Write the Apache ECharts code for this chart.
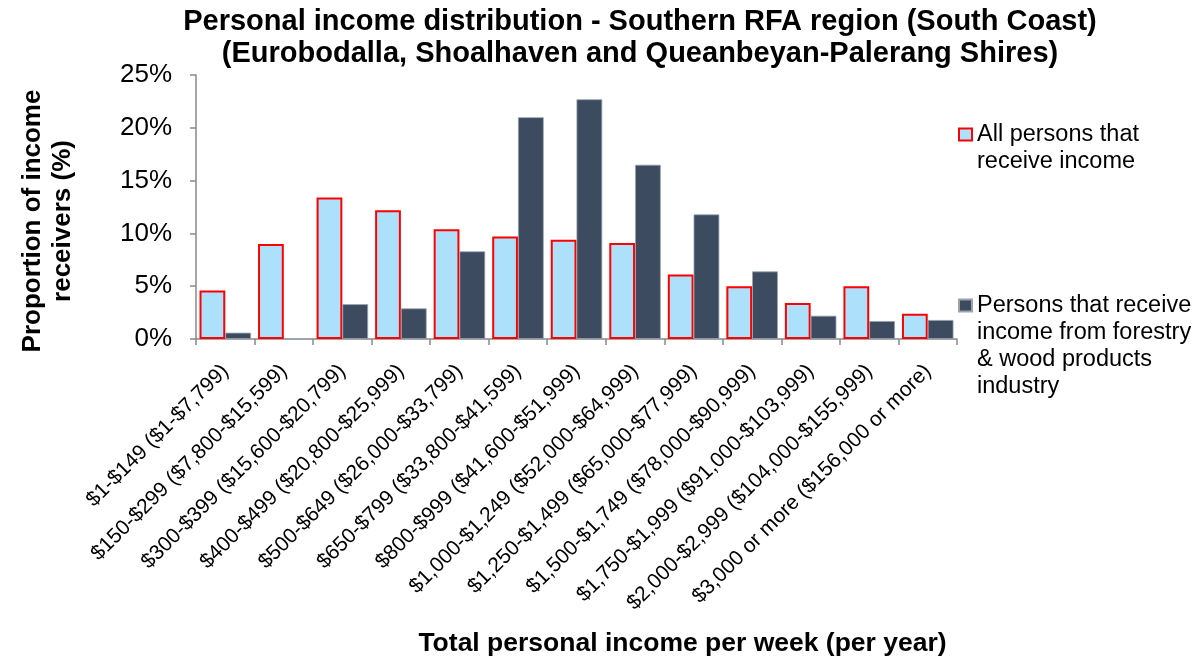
<!DOCTYPE html>
<html>
<head>
<meta charset="utf-8">
<title>Personal income distribution - Southern RFA region (South Coast)</title>
<script src="https://cdn.jsdelivr.net/npm/echarts@6/dist/echarts.min.js"></script>
<style>
  html, body { margin: 0; padding: 0; background: #ffffff; }
  #chart { width: 1204px; height: 663px; }
</style>
</head>
<body>
<div id="chart"></div>
<script>
// Weekly (annual) personal income brackets
const incomeBands = [
  '$1-$149 ($1-$7,799)',
  '$150-$299 ($7,800-$15,599)',
  '$300-$399 ($15,600-$20,799)',
  '$400-$499 ($20,800-$25,999)',
  '$500-$649 ($26,000-$33,799)',
  '$650-$799 ($33,800-$41,599)',
  '$800-$999 ($41,600-$51,999)',
  '$1,000-$1,249 ($52,000-$64,999)',
  '$1,250-$1,499 ($65,000-$77,999)',
  '$1,500-$1,749 ($78,000-$90,999)',
  '$1,750-$1,999 ($91,000-$103,999)',
  '$2,000-$2,999 ($104,000-$155,999)',
  '$3,000 or more ($156,000 or more)'
];

// Share of income receivers in each bracket (%)
const allPersons = [4.6, 9.0, 13.4, 12.2, 10.4, 9.7, 9.4, 9.1, 6.1, 5.0, 3.4, 5.0, 2.4];
const forestryPersons = [0.6, 0, 3.3, 2.9, 8.3, 21.0, 22.7, 16.5, 11.8, 6.4, 2.2, 1.7, 1.8];

// Y axis ticks (%)
const yTicks = { min: 0, max: 25, interval: 5 };

const seriesNames = [
  'All persons that receive income',
  'Persons that receive income from forestry & wood products industry'
];

// Legend text is wrapped over several lines; leading blank lines keep the
// swatch level with the first line (legend text is centred on its swatch).
const legendLines = {};
legendLines[seriesNames[0]] = ['All persons that', 'receive income'];
legendLines[seriesNames[1]] = ['Persons that receive', 'income from forestry', '& wood products', 'industry'];

function legendText(name) {
  const lines = legendLines[name];
  const pad = new Array(lines.length - 1).fill('');
  return pad.concat(lines).join('\n');
}

const FONT = '"Liberation Sans", Arial, Helvetica, sans-serif';
const AXIS_GREY = '#898989';

const legendBase = {
  orient: 'vertical',
  left: 958,
  padding: 0,
  itemWidth: 13,
  itemHeight: 12,
  icon: 'rect',
  selectedMode: false,
  formatter: legendText,
  textStyle: {
    fontFamily: FONT,
    fontSize: 23.5,
    lineHeight: 27,
    color: '#000000'
  }
};

const chart = echarts.init(document.getElementById('chart'), null, { renderer: 'canvas' });

chart.setOption({
  backgroundColor: '#ffffff',
  animation: false,
  textStyle: { fontFamily: FONT, color: '#000000' },
  title: {
    text: 'Personal income distribution - Southern RFA region (South Coast)\n(Eurobodalla, Shoalhaven and Queanbeyan-Palerang Shires)',
    left: 640,
    top: 6,
    textAlign: 'center',
    padding: 0,
    textStyle: {
      fontFamily: FONT,
      fontSize: 29,
      fontWeight: 'bold',
      lineHeight: 32,
      color: '#000000'
    }
  },
  legend: [
    Object.assign({}, legendBase, { data: [seriesNames[0]], top: 94 }),
    Object.assign({}, legendBase, { data: [seriesNames[1]], top: 211 })
  ],
  grid: {
    left: 196,
    right: 247,
    top: 75,
    bottom: 324,
    containLabel: false,
    outerBoundsMode: 'none'
  },
  xAxis: {
    type: 'category',
    data: incomeBands,
    boundaryGap: true,
    name: 'Total personal income per week (per year)',
    nameLocation: 'middle',
    nameGap: 291,
    nameTextStyle: {
      fontFamily: FONT,
      fontSize: 26.5,
      fontWeight: 'bold',
      color: '#000000',
      padding: [0, 0, 0, 212]
    },
    axisLine: { show: true, lineStyle: { color: AXIS_GREY, width: 1.5 } },
    axisTick: { show: true, alignWithLabel: false, length: 6, lineStyle: { color: AXIS_GREY, width: 1.5 } },
    axisLabel: {
      interval: 0,
      rotate: 45,
      margin: 29,
      fontFamily: FONT,
      fontSize: 21,
      color: '#000000'
    },
    splitLine: { show: false }
  },
  yAxis: {
    type: 'value',
    min: yTicks.min,
    max: yTicks.max,
    interval: yTicks.interval,
    name: 'Proportion of income\nreceivers (%)',
    nameLocation: 'middle',
    nameRotate: 90,
    nameGap: 118,
    nameTextStyle: {
      fontFamily: FONT,
      fontSize: 26,
      fontWeight: 'bold',
      lineHeight: 30,
      color: '#000000',
      padding: [0, 28, 0, 0]
    },
    axisLine: { show: true, lineStyle: { color: AXIS_GREY, width: 1.5 } },
    axisTick: { show: true, length: 6, lineStyle: { color: AXIS_GREY, width: 1.5 } },
    axisLabel: {
      formatter: '{value}%',
      margin: 24,
      fontFamily: FONT,
      fontSize: 26,
      color: '#000000'
    },
    splitLine: { show: false }
  },
  series: [
    {
      name: seriesNames[0],
      type: 'bar',
      data: allPersons,
      barGap: '0%',
      barCategoryGap: '12%',
      itemStyle: {
        color: '#ADE0FA',
        borderColor: '#FF0000',
        borderWidth: 2
      },
      emphasis: { disabled: true }
    },
    {
      name: seriesNames[1],
      type: 'bar',
      data: forestryPersons,
      barGap: '0%',
      barCategoryGap: '12%',
      itemStyle: {
        color: '#3C4B60',
        borderColor: '#9AA3AE',
        borderWidth: 0.8
      },
      emphasis: { disabled: true }
    }
  ]
});
</script>
</body>
</html>
